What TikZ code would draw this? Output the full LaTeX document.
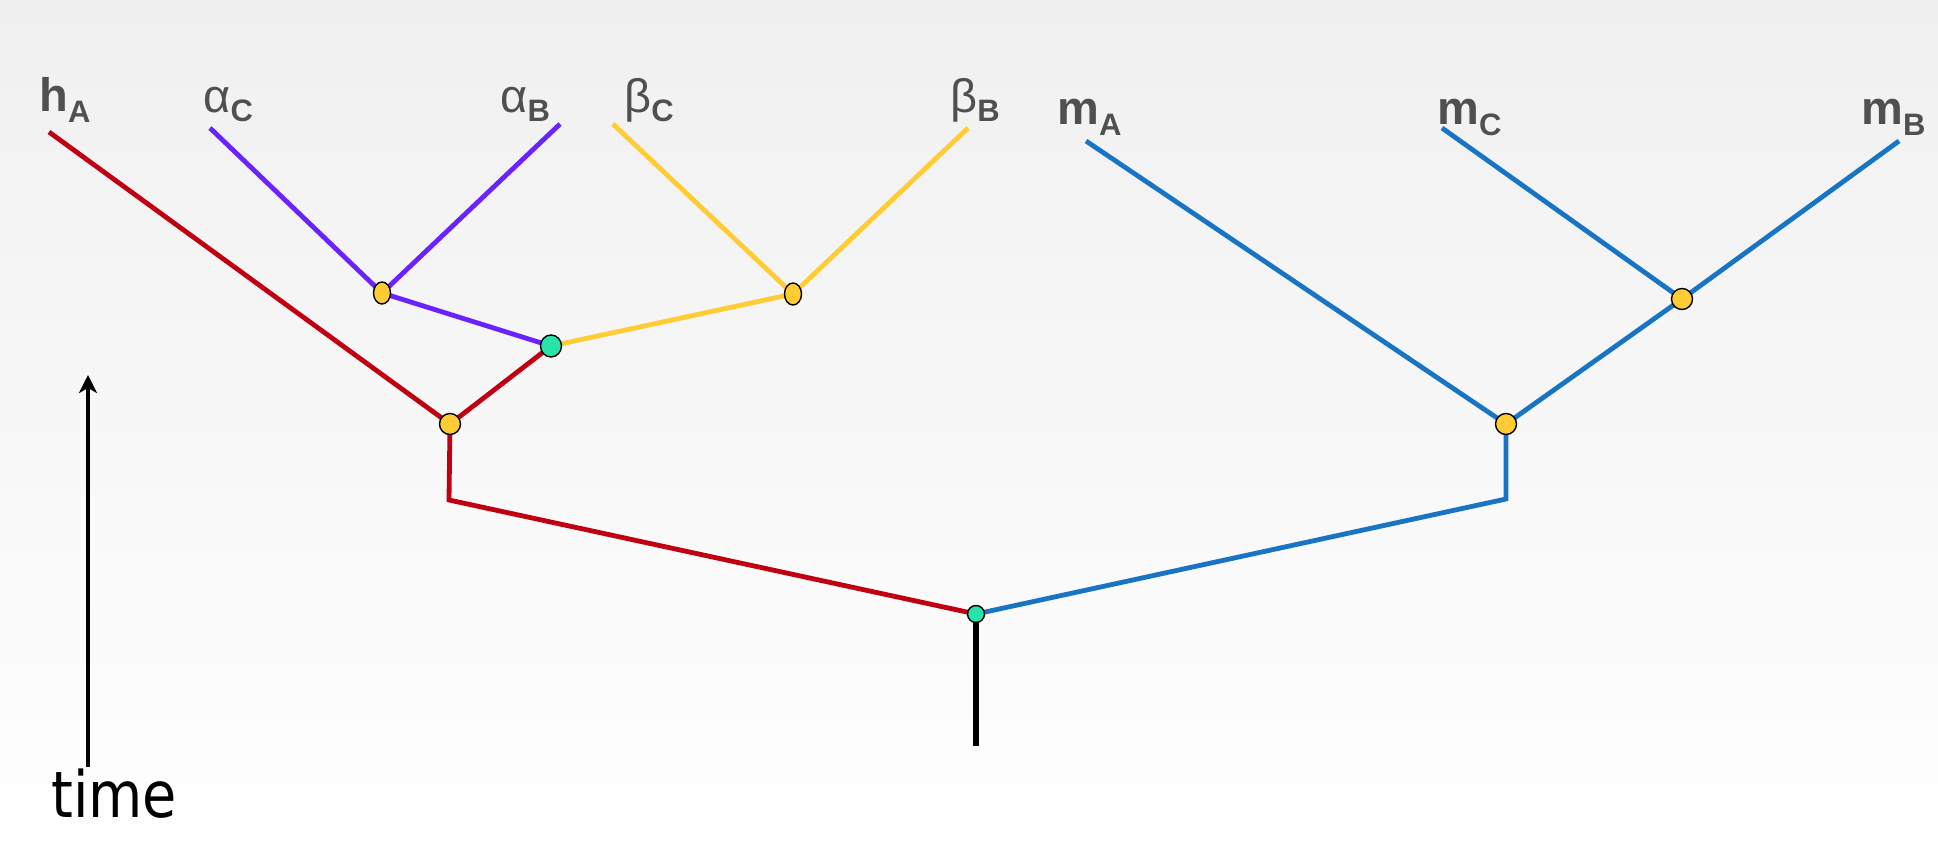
\documentclass[tikz,border=0pt]{standalone}
\usepackage{fontspec}
\setmainfont{Liberation Sans}
\newfontfamily\timefont{DejaVu Sans}
\usetikzlibrary{shapes.geometric,arrows.meta}
\definecolor{cred}{RGB}{192,0,16}
\definecolor{cpurple}{RGB}{106,34,255}
\definecolor{cyellow}{RGB}{255,204,51}
\definecolor{cblue}{RGB}{24,116,196}
\definecolor{cgreen}{RGB}{40,228,168}
\definecolor{labgray}{RGB}{80,80,80}
\definecolor{bgtop}{RGB}{240,240,240}
\pgfdeclarelayer{bg}
\pgfdeclarelayer{back}
\pgfsetlayers{back,bg,main}
\newcommand{\mainf}{\fontsize{23.5pt}{27pt}\selectfont}
\newcommand{\subf}{\fontsize{15.5pt}{18pt}\selectfont\bfseries}
\begin{document}
\begin{tikzpicture}[x=0.5pt,y=-0.5pt,
  branch/.style={line width=2.4pt},
  ynode/.style={circle,draw=black,line width=0.7pt,fill=cyellow,minimum size=10.5pt,inner sep=0pt},
  yell/.style={ellipse,draw=black,line width=0.7pt,fill=cyellow,minimum width=8.5pt,minimum height=11pt,inner sep=0pt},
  gnode/.style={ellipse,draw=black,line width=0.7pt,fill=cgreen,minimum width=10.5pt,minimum height=11pt,inner sep=0pt},
  rnode/.style={circle,draw=black,line width=0.7pt,fill=cgreen,minimum size=8.5pt,inner sep=0pt},
  lab/.style={anchor=base west,inner sep=0pt,text=labgray,font=\mainf},
]
\begin{pgfonlayer}{back}
\shade[top color=bgtop,bottom color=white] (0,0) rectangle (1938,866);
\end{pgfonlayer}
\useasboundingbox (0,0) rectangle (1938,866);

% labels
\node[lab] (lhA) at (39,112) {\textbf{h}\raisebox{-5.5pt}{\subf A}};
\node[lab] (laC) at (203,113) {α\raisebox{-4.5pt}{\subf C}};
\node[lab] (laB) at (500,113) {α\raisebox{-4.5pt}{\subf B}};
\node[lab] (lbC) at (624,113) {β\raisebox{-4.5pt}{\subf C}};
\node[lab] (lbB) at (950,113) {β\raisebox{-4.5pt}{\subf B}};
\node[lab] (lmA) at (1057,125) {\textbf{m}\raisebox{-5.5pt}{\subf A}};
\node[lab] (lmC) at (1437,125) {\textbf{m}\raisebox{-5.5pt}{\subf C}};
\node[lab] (lmB) at (1861,125) {\textbf{m}\raisebox{-5.5pt}{\subf B}};

% leaf tips
\coordinate (thA) at (49,132);
\coordinate (taC) at (210,128);
\coordinate (taB) at (560,124);
\coordinate (tbC) at (613,124);
\coordinate (tbB) at (968,128);
\coordinate (tmA) at (1086,141);
\coordinate (tmC) at (1442,128);
\coordinate (tmB) at (1899,141);
% corners
\coordinate (cl) at (449,500);
\coordinate (cr) at (1506,499);
\coordinate (base) at (976,746);

% internal nodes
\node[yell] (na) at (382,293) {};
\node[yell] (nb) at (793,294) {};
\node[gnode] (ng) at (551,346) {};
\node[ynode] (nh) at (450,424) {};
\node[ynode] (nm2) at (1682,299) {};
\node[ynode] (nm1) at (1506,424) {};
\node[rnode] (root) at (976,614) {};

\begin{pgfonlayer}{bg}
\draw[branch,cred] (thA) -- (nh.center);
\draw[branch,cred] (nh.center) -- (ng.center);
\draw[branch,cred,line join=miter] (nh.center) -- (cl) -- (root.center);
\draw[branch,cpurple] (taC) -- (na.center);
\draw[branch,cpurple] (taB) -- (na.center);
\draw[branch,cpurple] (na.center) -- (ng.center);
\draw[branch,cyellow] (tbC) -- (nb.center);
\draw[branch,cyellow] (tbB) -- (nb.center);
\draw[branch,cyellow] (nb.center) -- (ng.center);
\draw[branch,cblue] (tmA) -- (nm1.center);
\draw[branch,cblue] (tmC) -- (nm2.center);
\draw[branch,cblue] (tmB) -- (nm2.center);
\draw[branch,cblue] (nm2.center) -- (nm1.center);
\draw[branch,cblue,line join=miter] (nm1.center) -- (cr) -- (root.center);
\draw[line width=2.6pt,black] (root.center) -- (base);
\end{pgfonlayer}

% time axis
\coordinate (ta) at (88,767);
\coordinate (tb) at (88,375);
\draw[line width=1.8pt,-{Stealth[length=9pt,width=9pt,inset=2.5pt]}] (ta) -- (tb);
\node[anchor=base west,inner sep=0pt,xscale=0.87,transform shape,font=\timefont\fontsize{32pt}{36pt}\selectfont] (ltime) at (51,817) {time};
\end{tikzpicture}
\end{document}
